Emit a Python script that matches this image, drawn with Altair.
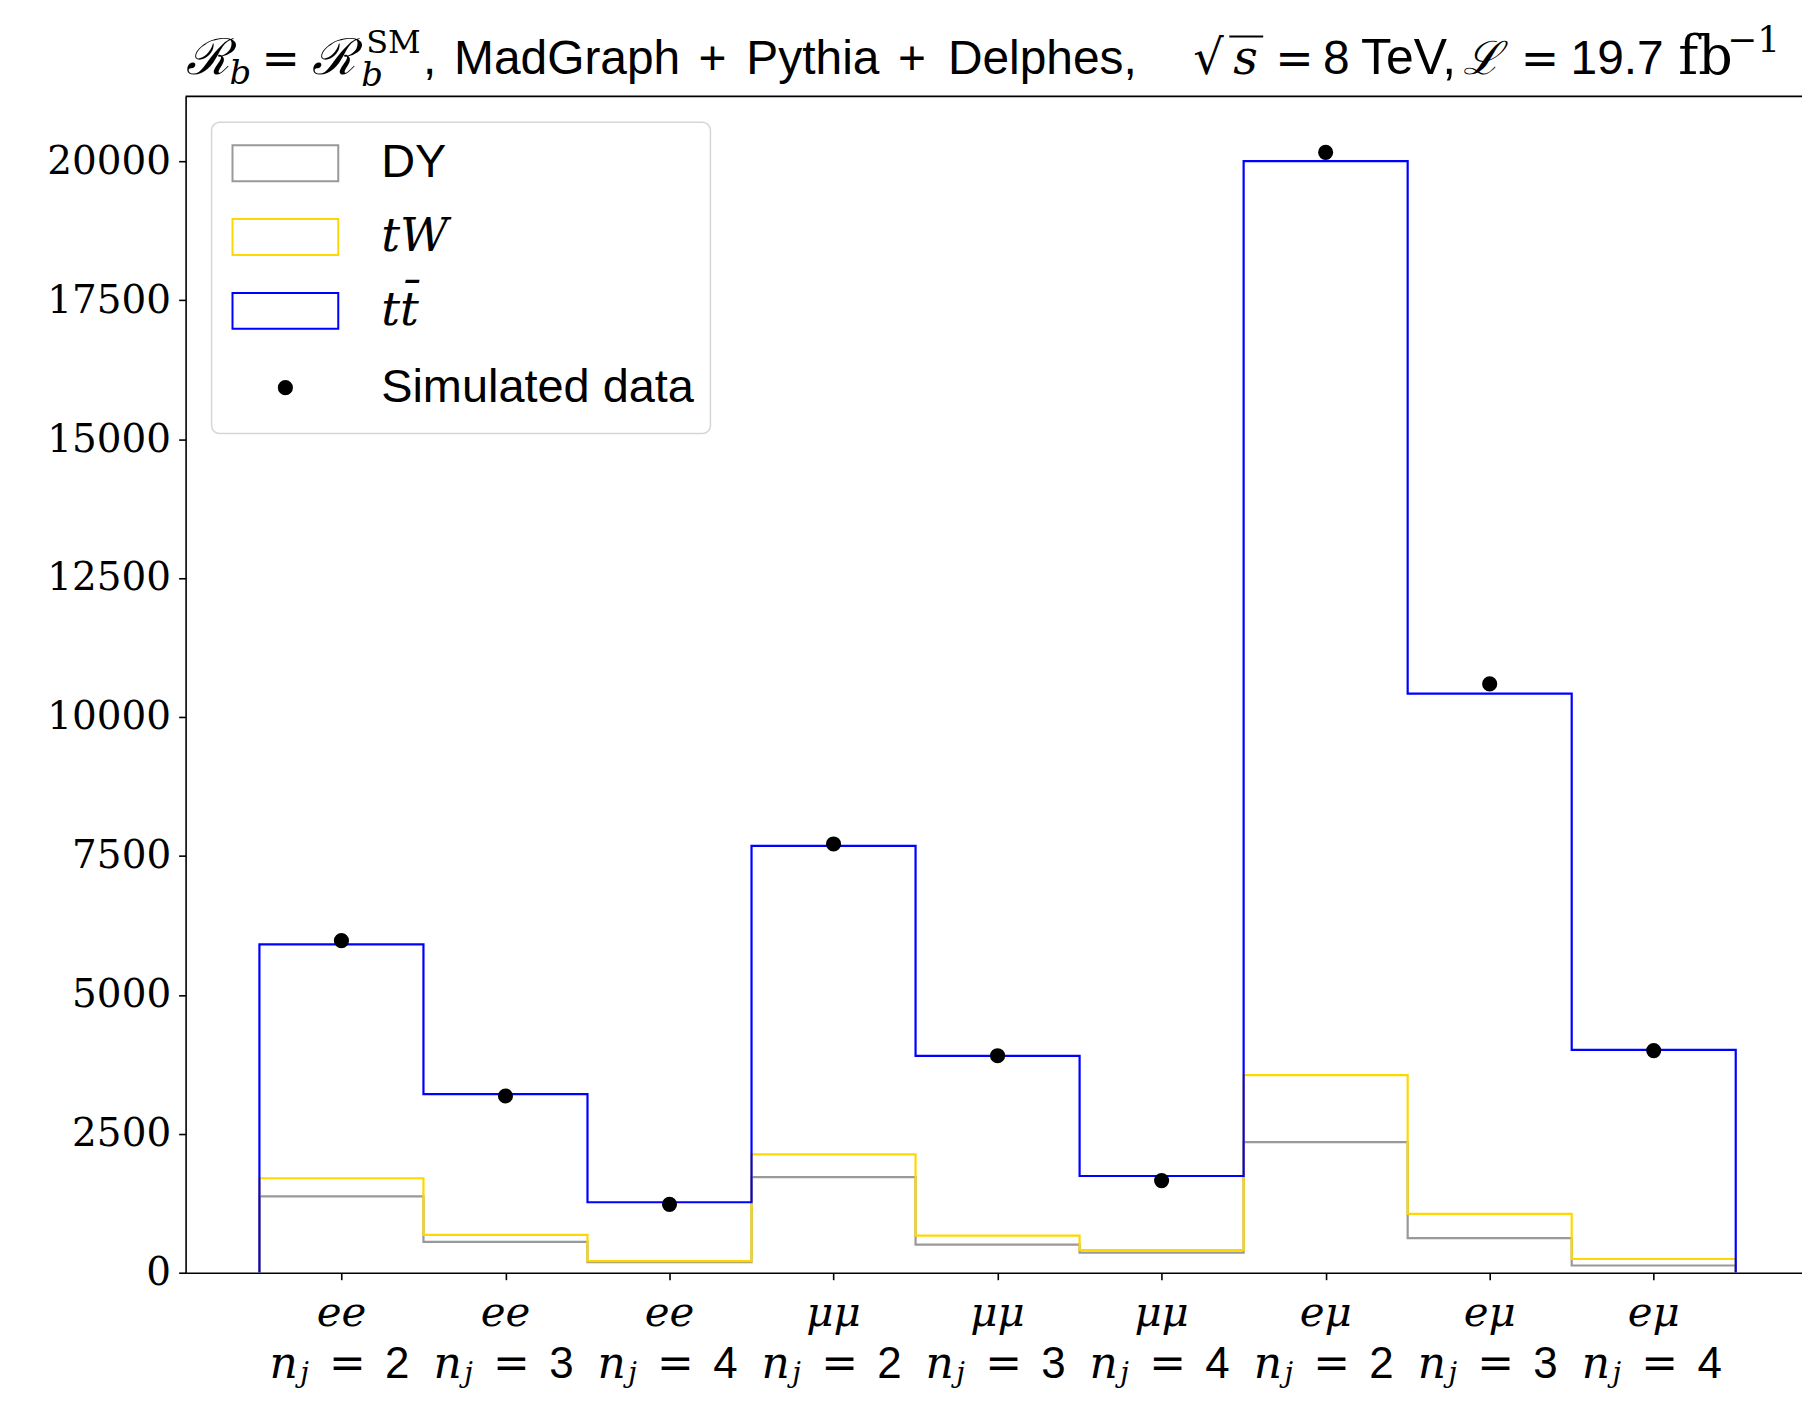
import altair as alt
import pandas as pd
import numpy as np

# ---------------- data ----------------
channels = ["ee", "ee", "ee", "μμ", "μμ", "μμ", "eμ", "eμ", "eμ"]
n_jets = [2, 3, 4, 2, 3, 4, 2, 3, 4]
dy_counts = [1375, 555, 190, 1720, 505, 362, 2350, 622, 130]
tw_counts = [325, 127, 20, 408, 163, 43, 1205, 436, 117]
tt_counts = [4208, 2532, 1058, 5552, 3232, 1335, 16448, 9362, 3761]
data_counts = [5975, 3180, 1230, 7715, 3905, 1658, 20160, 10595, 3997]
y_ticks = [0, 2500, 5000, 7500, 10000, 12500, 15000, 17500, 20000]
series_names = ["DY", "tW", "tt̄"]
series_colors = ["#999999", "#FFD700", "#0000FF"]
legend_labels = ["DY", "tW", "tt̄", "Simulated data"]

# ---------------- layout ----------------
W, H = 1620, 1179
SANS = "Liberation Sans"
SERIF = "DejaVu Serif"
x_scale = alt.Scale(domain=[-0.45, 9.404], nice=False, zero=False)
y_scale = alt.Scale(domain=[0, 21167], nice=False, zero=False)
nbins = len(channels)
x_axis = alt.Axis(values=[i + 0.5 for i in range(nbins)], labels=False, ticks=True,
                  tickSize=7, grid=False, title=None, domain=True)
y_axis = alt.Axis(values=y_ticks, format="d", labelFont=SERIF, labelFontSize=39,
                  tickSize=7, labelPadding=8, grid=False, title=None, domain=True)
one = pd.DataFrame({"k": [0]})

levels = np.cumsum([dy_counts, tw_counts, tt_counts], axis=0)

layers = []
for s, name in enumerate(series_names):
    lv = levels[s]
    pts = [(0, 0.0)] + [(i, float(v)) for i, v in enumerate(lv)] + [(nbins, float(lv[-1])), (nbins, 0.0)]
    df = pd.DataFrame({"edge": [p[0] for p in pts], "level": [p[1] for p in pts],
                       "ord": list(range(len(pts)))})
    layers.append(
        alt.Chart(df).mark_line(interpolate="step-after", color=series_colors[s], strokeWidth=2.2)
        .encode(x=alt.X("edge:Q", scale=x_scale, axis=x_axis),
                y=alt.Y("level:Q", scale=y_scale, axis=y_axis),
                order="ord:Q")
    )

pts_df = pd.DataFrame({"edge": np.arange(nbins) + 0.5, "level": data_counts})
layers.append(
    alt.Chart(pts_df).mark_circle(color="black", size=230, opacity=1)
    .encode(x=alt.X("edge:Q", scale=x_scale, axis=x_axis),
            y=alt.Y("level:Q", scale=y_scale, axis=y_axis))
)

# top spine
layers.append(alt.Chart(one).mark_rule(color="black", strokeWidth=1.6)
              .encode(x=alt.value(0), x2=alt.value(W), y=alt.value(0)))

# x tick labels (two rows)
lab_df = pd.DataFrame({"edge": np.arange(nbins) + 0.5, "channel": channels,
                       "nj": [str(n) for n in n_jets]})

def xlab(text_enc, dy_px, font, size, style="normal", dx=0):
    return (alt.Chart(lab_df)
            .mark_text(font=font, fontSize=size, fontStyle=style, align="center",
                       baseline="alphabetic", dx=dx, color="black")
            .encode(x=alt.X("edge:Q", scale=x_scale, axis=x_axis),
                    y=alt.value(H + dy_px), text=text_enc))

layers.append(xlab(alt.Text("channel:N"), 53, SERIF, 42, "italic"))
layers.append(xlab(alt.value("n"), 106, SERIF, 44, "italic", dx=-58))
layers.append(xlab(alt.value("j"), 110, SERIF, 28, "italic", dx=-37))
layers.append(xlab(alt.value("="), 106, SERIF, 44, "normal", dx=6))
layers.append(xlab(alt.Text("nj:N"), 106, SANS, 44, "normal", dx=56))

# legend (drawn by hand, in pixel space of the plot)
def txt(t, x, y, font, size, style="normal", baseline="alphabetic", align="left"):
    return (alt.Chart(one)
            .mark_text(font=font, fontSize=size, fontStyle=style, align=align,
                       baseline=baseline, color="black")
            .encode(x=alt.value(x), y=alt.value(y), text=alt.value(t)))

layers.append(alt.Chart(one).mark_rect(fill="white", fillOpacity=0.85, stroke="#d6d6d6",
                                       strokeWidth=1.5, cornerRadius=8)
              .encode(x=alt.value(26), x2=alt.value(526), y=alt.value(26), y2=alt.value(338)))
row_y = [67, 141, 215, 292]
for i in range(3):
    layers.append(alt.Chart(one).mark_rect(fill="white", fillOpacity=0, stroke=series_colors[i],
                                           strokeWidth=2)
                  .encode(x=alt.value(47), x2=alt.value(153),
                          y=alt.value(row_y[i] - 18), y2=alt.value(row_y[i] + 18)))
layers.append(alt.Chart(one).mark_circle(color="black", size=230, opacity=1)
              .encode(x=alt.value(100), y=alt.value(row_y[3])))
legend_fonts = [(SANS, "normal"), (SERIF, "italic"), (SERIF, "italic"), (SANS, "normal")]
for i, lab in enumerate(legend_labels):
    f, st = legend_fonts[i]
    layers.append(txt(lab, 196, row_y[i], f, 47, st, baseline="middle"))

# title pieces: (text, left x in page px, font, size, style, baseline shift)
base_y = -22
OX = 186
pieces = [
    ("ℛ", 186, SERIF, 50, "italic", 0),
    ("b", 230, SERIF, 34, "italic", 10),
    ("=", 262, SERIF, 46, "normal", 0),
    ("ℛ", 313, SERIF, 50, "italic", 0),
    ("b", 362, SERIF, 34, "italic", 12),
    ("SM", 367, SERIF, 32, "normal", -21),
    (",", 424, SANS, 48, "normal", 0),
    ("MadGraph", 455, SANS, 48, "normal", 0),
    ("+", 700, SANS, 48, "normal", 0),
    ("Pythia", 748, SANS, 48, "normal", 0),
    ("+", 900, SANS, 48, "normal", 0),
    ("Delphes,", 950, SANS, 48, "normal", 0),
    ("√", 1196, "DejaVu Sans", 48, "normal", 0),
    ("s", 1236, SERIF, 48, "italic", 0),
    ("=", 1278, SERIF, 46, "normal", 0),
    ("8", 1326, SANS, 48, "normal", 0),
    ("TeV,", 1364, SANS, 50, "normal", 0),
    ("ℒ", 1466, SERIF, 46, "italic", 0),
    ("=", 1524, SERIF, 46, "normal", 0),
    ("19.7", 1574, SANS, 48, "normal", 0),
    ("fb", 1682, SERIF, 54, "normal", 0),
    ("−1", 1731, SERIF, 36, "normal", -22),
]
for t, px, f, sz, st, dy in pieces:
    layers.append(txt(t, px - OX, base_y + dy, f, sz, st))
# vinculum of the square root
layers.append(alt.Chart(one).mark_rule(color="black", strokeWidth=2)
              .encode(x=alt.value(1232 - OX), x2=alt.value(1266 - OX), y=alt.value(base_y - 38)))

chart = (
    alt.layer(*layers)
    .properties(width=W, height=H,
                padding={"left": 178, "top": 87, "right": 0, "bottom": 114},
                autosize=alt.AutoSizeParams(type="none"))
    .configure_view(stroke=None)
    .configure_axis(domainColor="black", domainWidth=1.6, tickColor="black", tickWidth=1.6,
                    labelColor="black")
)
chart.save("out.html", embed_options={"renderer": "svg", "actions": False})
